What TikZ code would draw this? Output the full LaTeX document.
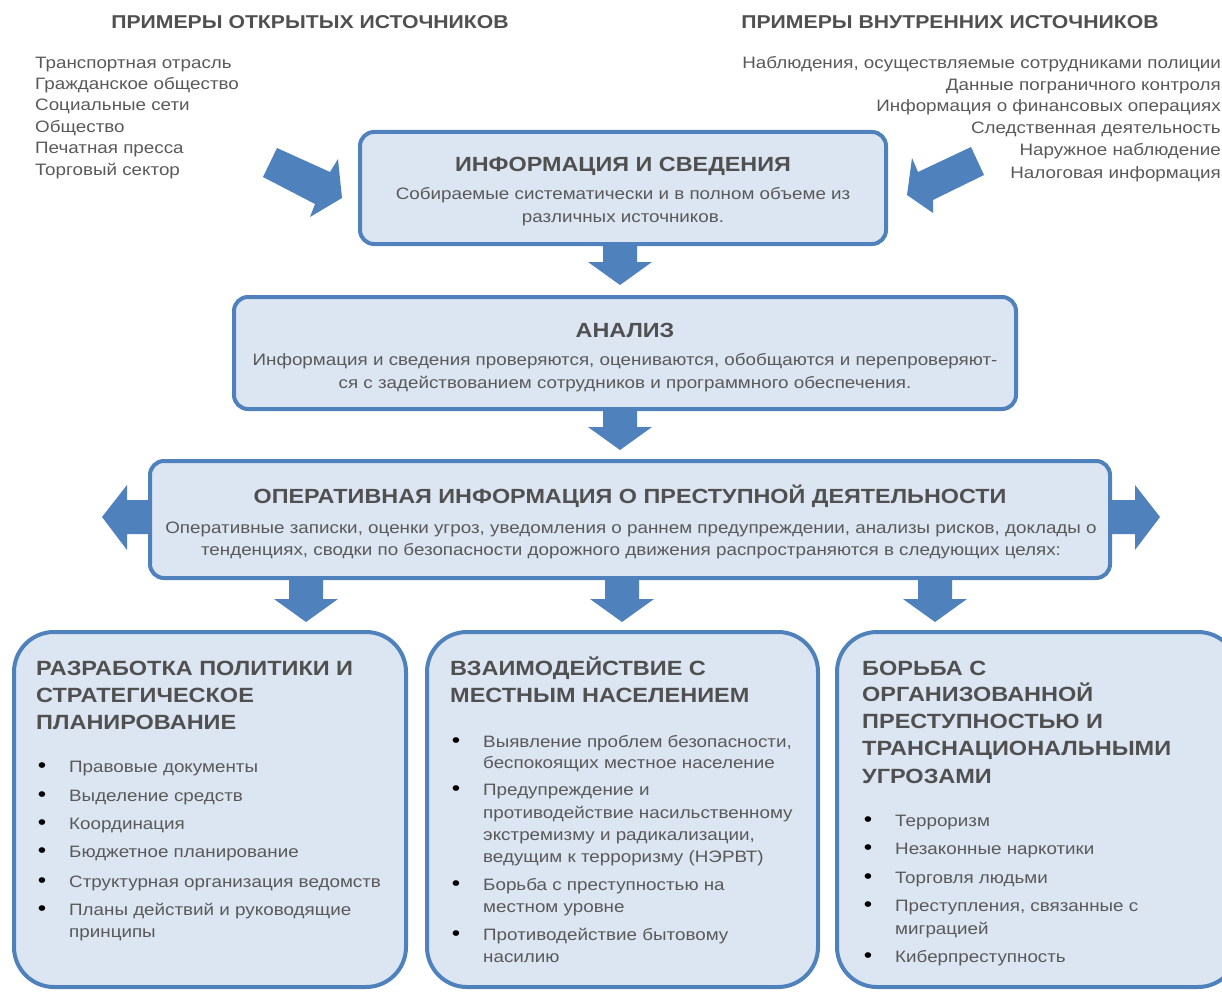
\documentclass[tikz,border=0pt]{standalone}
\usepackage{fontspec}
\setmainfont[FakeStretch=1.14]{Liberation Sans}
\usetikzlibrary{calc}
\definecolor{bblue}{HTML}{4F81BD}
\definecolor{bfill}{HTML}{DCE6F2}
\definecolor{tgray}{HTML}{595959}
\definecolor{hgray}{HTML}{505050}
\begin{document}
\begin{tikzpicture}[x=1pt,y=-1pt,
  box/.style={draw=bblue, line width=4pt, fill=bfill, rounded corners=14pt, inner sep=0pt},
  bigbox/.style={box, rounded corners=40pt},
  hdr/.style={font=\bfseries\fontsize{18.6}{20}\selectfont, text=hgray, inner sep=0pt, anchor=base},
  src/.style={font=\fontsize{16.5}{20}\selectfont, text=tgray, inner sep=0pt},
  ttl/.style={font=\bfseries\fontsize{20.5}{23}\selectfont, text=hgray, inner sep=0pt, anchor=base},
  sub/.style={font=\fontsize{16.5}{23}\selectfont, text=tgray, inner sep=0pt, anchor=base},
  btl/.style={font=\bfseries\fontsize{20.6}{27}\selectfont, text=hgray, inner sep=0pt, anchor=base west},
  lst/.style={font=\fontsize{16.5}{20}\selectfont, text=tgray, inner sep=0pt, anchor=base west},
  bul/.style={font=\fontsize{21}{20}\selectfont, text=black, inner sep=0pt, anchor=base},
  dnarr/.pic={\fill[bblue] (-17,0) -- (17,0) -- (17,#1) -- (32,#1) -- (0,#1+23) -- (-32,#1) -- (-17,#1) -- cycle;}
]
\useasboundingbox (0,0) rectangle (1222,992);
\clip (0,0) rectangle (1222,992);

% headers
\node[hdr] (h1) at (310,29) {ПРИМЕРЫ ОТКРЫТЫХ ИСТОЧНИКОВ};
\node[hdr] (h2) at (950,29) {ПРИМЕРЫ ВНУТРЕННИХ ИСТОЧНИКОВ};

% open sources
\node[src, anchor=base west] (o1) at (35,69) {Транспортная отрасль};
\node[src, anchor=base west] (o2) at (35,90) {Гражданское общество};
\node[src, anchor=base west] (o3) at (35,111) {Социальные сети};
\node[src, anchor=base west] (o4) at (35,133) {Общество};
\node[src, anchor=base west] (o5) at (35,154) {Печатная пресса};
\node[src, anchor=base west] (o6) at (35,176) {Торговый сектор};

% internal sources
\node[src, anchor=base east] (i1) at (1221,69) {Наблюдения, осуществляемые сотрудниками полиции};
\node[src, anchor=base east] (i2) at (1221,91) {Данные пограничного контроля};
\node[src, anchor=base east] (i3) at (1221,112) {Информация о финансовых операциях};
\node[src, anchor=base east] (i4) at (1221,134) {Следственная деятельность};
\node[src, anchor=base east] (i5) at (1221,156) {Наружное наблюдение};
\node[src, anchor=base east] (i6) at (1221,179) {Налоговая информация};

% boxes
\node[box, minimum width=526pt, minimum height=112pt] (info) at (623,188) {};
\node[box, minimum width=782pt, minimum height=112pt] (anal) at (625,353) {};
\node[box, minimum width=960pt, minimum height=117pt] (ops) at (630,519.5) {};
\node[bigbox, minimum width=392pt, minimum height=355pt] (pa) at (210,809.5) {};
\node[bigbox, minimum width=391pt, minimum height=355pt] (pb) at (622.5,809.5) {};
\node[bigbox, minimum width=401pt, minimum height=355pt] (pc) at (1037.5,809.5) {};

% diagonal arrows
\fill[bblue] (277,148) -- (330,172) -- (338,159) -- (342,198) -- (310,217) -- (315,204) -- (263,177) -- cycle;
\fill[bblue] (971,147) -- (918,172) -- (912,158) -- (907,195) -- (933,213) -- (933,200) -- (984,175) -- cycle;

% down arrows
\pic[xshift=-3pt] at (info.south) {dnarr=16};
\pic[xshift=-5pt] at (anal.south) {dnarr=16};
\coordinate (c1) at (306,0);
\coordinate (c2) at (622,0);
\coordinate (c3) at (935,0);
\pic at (ops.south -| c1) {dnarr=19};
\pic at (ops.south -| c2) {dnarr=19};
\pic at (ops.south -| c3) {dnarr=19};

% side arrows
\fill[bblue] (ops.west) ++(0,-19.5) -- ++(-21,0) -- ++(0,-15) -- ++(-25,32) -- ++(25,33) -- ++(0,-16) -- ++(21,0) -- cycle;
\fill[bblue] (ops.east) ++(0,-19.5) -- ++(23,0) -- ++(0,-15) -- ++(25,32) -- ++(-25,33) -- ++(0,-16) -- ++(-23,0) -- cycle;

% box texts
\node[ttl] (t1) at (623,172) {ИНФОРМАЦИЯ И СВЕДЕНИЯ};
\node[sub] (s1a) at (623,200) {Собираемые систематически и в полном объеме из};
\node[sub] (s1b) at (623,223) {различных источников.};

\node[ttl] (t2) at (625,337) {АНАЛИЗ};
\node[sub] (s2a) at (625,365) {Информация и сведения проверяются, оцениваются, обобщаются и перепроверяют-};
\node[sub] (s2b) at (625,388) {ся с задействованием сотрудников и программного обеспечения.};

\node[ttl] (t3) at (630,503) {ОПЕРАТИВНАЯ ИНФОРМАЦИЯ О ПРЕСТУПНОЙ ДЕЯТЕЛЬНОСТИ};
\node[sub] (s3a) at (631,533) {Оперативные записки, оценки угроз, уведомления о раннем предупреждении, анализы рисков, доклады о};
\node[sub] (s3b) at (631,555) {тенденциях, сводки по безопасности дорожного движения распространяются в следующих целях:};

% box A
\node[btl] (ta1) at (36,675) {РАЗРАБОТКА ПОЛИТИКИ И};
\node[btl] (ta2) at (36,702) {СТРАТЕГИЧЕСКОЕ};
\node[btl] (ta3) at (36,729) {ПЛАНИРОВАНИЕ};
\foreach \n/\y/\t in {1/772/Правовые документы, 2/801/Выделение средств, 3/829/Координация, 4/857/Бюджетное планирование, 5/887/Структурная организация ведомств, 6/915/Планы действий и руководящие}{
  \node[bul] (ab\n) at (42,\y) {•};
  \node[lst] (al\n) at (69,\y) {\t};
}
\node[lst] (al7) at (69,937) {принципы};

% box B
\node[btl] (tb1) at (450,675) {ВЗАИМОДЕЙСТВИЕ С};
\node[btl] (tb2) at (450,702) {МЕСТНЫМ НАСЕЛЕНИЕМ};
\foreach \n/\y in {1/747, 2/795, 3/890, 4/940}{
  \node[bul] (bb\n) at (456,\y) {•};
}
\node[lst] (bl1) at (483,747) {Выявление проблем безопасности,};
\node[lst] (bl2) at (483,768) {беспокоящих местное население};
\node[lst] (bl3) at (483,795) {Предупреждение и};
\node[lst] (bl4) at (483,818) {противодействие насильственному};
\node[lst] (bl5) at (483,840) {экстремизму и радикализации,};
\node[lst] (bl6) at (483,862) {ведущим к терроризму (НЭРВТ)};
\node[lst] (bl7) at (483,890) {Борьба с преступностью на};
\node[lst] (bl8) at (483,912) {местном уровне};
\node[lst] (bl9) at (483,940) {Противодействие бытовому};
\node[lst] (bl10) at (483,962) {насилию};

% box C
\node[btl] (tc1) at (862,675) {БОРЬБА С};
\node[btl] (tc2) at (862,701) {ОРГАНИЗОВАННОЙ};
\node[btl] (tc3) at (862,728) {ПРЕСТУПНОСТЬЮ И};
\node[btl] (tc4) at (862,755) {ТРАНСНАЦИОНАЛЬНЫМИ};
\node[btl] (tc5) at (862,783) {УГРОЗАМИ};
\foreach \n/\y/\t in {1/826/Терроризм, 2/854/Незаконные наркотики, 3/883/Торговля людьми, 4/911/{Преступления, связанные с}, 5/962/Киберпреступность}{
  \node[bul] (cb\n) at (868,\y) {•};
  \node[lst] (cl\n) at (895,\y) {\t};
}
\node[lst] (cl6) at (895,934) {миграцией};
\end{tikzpicture}
\end{document}
